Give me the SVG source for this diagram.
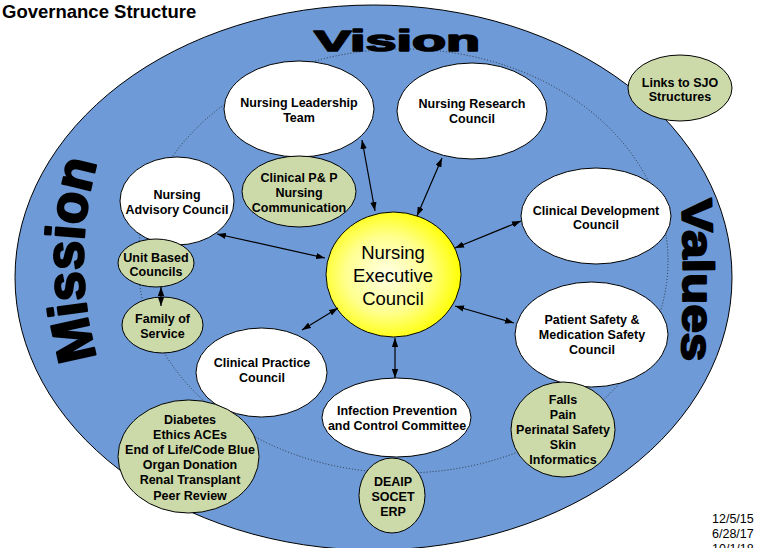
<svg xmlns="http://www.w3.org/2000/svg" width="758" height="548" viewBox="0 0 758 548">
  <defs>
    <style>
      text { font-family: "Liberation Sans", Arial, sans-serif; fill: #000; }
      .t { font-size: 12.5px; font-weight: bold; text-anchor: middle; }
      .white { fill: #fff; stroke: #000; stroke-width: 1; }
      .green { fill: #ccd9a9; stroke: #000; stroke-width: 1; }
      .big { font-weight: bold; stroke: #000; stroke-linejoin: round; }
      .link { stroke: #000; stroke-width: 1.2; fill: none; marker-start: url(#ah); marker-end: url(#ah); }
      .date { font-size: 12.5px; }
    </style>
    <marker id="ah" viewBox="0 0 10 7" refX="10" refY="3.5" markerWidth="9" markerHeight="6.5" markerUnits="userSpaceOnUse" orient="auto-start-reverse">
      <path d="M0,0L10,3.5L0,7z" fill="#000"/>
    </marker>
    <radialGradient id="nec-fill" cx="0.45" cy="0.5" r="0.55">
      <stop offset="0" stop-color="#ffffe6"/>
      <stop offset="0.55" stop-color="#ffff90"/>
      <stop offset="1" stop-color="#ffff00"/>
    </radialGradient>
    <path id="mission-arc" d="M108,390 A354,354 0 0 1 108,130"/>
    <path id="values-arc" d="M679,150 A2000,2000 0 0 1 679,410"/>
  </defs>

  <rect width="758" height="548" fill="#fff"/>

  <!-- title -->
  <text x="2" y="17.5" font-size="18.5" font-weight="bold">Governance Structure</text>

  <!-- outer ring and dotted inner boundary -->
  <g id="frame">
    <ellipse cx="373.5" cy="277.5" rx="358.5" ry="272.5" fill="#6e9bd8" stroke="#000" stroke-width="1"/>
    <ellipse cx="403" cy="261" rx="265" ry="212" fill="none" stroke="#1a1a1a" stroke-width="0.8" stroke-dasharray="1 2"/>
    <text class="big" x="314" y="51" font-size="30" stroke-width="1.6" textLength="166" lengthAdjust="spacingAndGlyphs">Vision</text>
    <text class="big" font-size="54" stroke-width="2.2"><textPath href="#mission-arc" startOffset="50%" text-anchor="middle" textLength="198" lengthAdjust="spacingAndGlyphs">Mission</textPath></text>
    <text class="big" font-size="43" stroke-width="2"><textPath href="#values-arc" startOffset="50%" text-anchor="middle" textLength="162" lengthAdjust="spacingAndGlyphs">Values</textPath></text>
  </g>

  <!-- nodes -->
  <g id="nursing-leadership-team">
    <ellipse class="white" cx="299" cy="109" rx="75" ry="48"/>
    <text class="t"><tspan x="299" y="106.5">Nursing Leadership</tspan><tspan x="299" y="121.5">Team</tspan></text>
  </g>
  <g id="nursing-research-council">
    <ellipse class="white" cx="472" cy="111" rx="75" ry="48"/>
    <text class="t"><tspan x="472" y="107.5">Nursing Research</tspan><tspan x="472" y="123">Council</tspan></text>
  </g>
  <g id="clinical-pp">
    <ellipse class="green" cx="299" cy="191.5" rx="57" ry="35.5"/>
    <text class="t"><tspan x="299" y="181.5">Clinical P&amp; P</tspan><tspan x="299" y="196.5">Nursing</tspan><tspan x="299" y="211.5">Communication</tspan></text>
  </g>
  <g id="nursing-advisory-council">
    <ellipse class="white" cx="177" cy="201" rx="57" ry="44"/>
    <text class="t"><tspan x="177" y="198.5">Nursing</tspan><tspan x="177" y="213.5">Advisory Council</tspan></text>
  </g>
  <g id="unit-based-councils">
    <ellipse class="green" cx="156" cy="263" rx="38" ry="24"/>
    <text class="t"><tspan x="156" y="261.5">Unit Based</tspan><tspan x="156" y="276">Councils</tspan></text>
  </g>
  <g id="family-of-service">
    <ellipse class="green" cx="162.5" cy="325" rx="40.5" ry="28"/>
    <text class="t"><tspan x="162.5" y="322.5">Family of</tspan><tspan x="162.5" y="337.5">Service</tspan></text>
  </g>
  <g id="clinical-development-council">
    <ellipse class="white" cx="596" cy="216" rx="75" ry="48"/>
    <text class="t"><tspan x="596" y="214.5">Clinical Development</tspan><tspan x="596" y="229">Council</tspan></text>
  </g>
  <g id="patient-safety-council">
    <ellipse class="white" cx="591.5" cy="334.5" rx="76.5" ry="52.5"/>
    <text class="t"><tspan x="592" y="323.5">Patient Safety &amp;</tspan><tspan x="592" y="338.5">Medication Safety</tspan><tspan x="592" y="353.5">Council</tspan></text>
  </g>
  <g id="falls-group">
    <ellipse class="green" cx="563" cy="429.5" rx="52" ry="47.5"/>
    <text class="t"><tspan x="563" y="403.5">Falls</tspan><tspan x="563" y="418.5">Pain</tspan><tspan x="563" y="433.5">Perinatal Safety</tspan><tspan x="563" y="448.5">Skin</tspan><tspan x="563" y="463.5">Informatics</tspan></text>
  </g>
  <g id="links-sjo">
    <ellipse class="green" cx="680" cy="88" rx="52" ry="33"/>
    <text class="t"><tspan x="680" y="86.5">Links to SJO</tspan><tspan x="680" y="101">Structures</tspan></text>
  </g>
  <g id="clinical-practice-council">
    <ellipse class="white" cx="261.5" cy="372.5" rx="65.5" ry="44.5"/>
    <text class="t"><tspan x="262" y="366.5">Clinical Practice</tspan><tspan x="262" y="381.5">Council</tspan></text>
  </g>
  <g id="infection-prevention">
    <ellipse class="white" cx="396.5" cy="417.5" rx="74.5" ry="39.5"/>
    <text class="t"><tspan x="397" y="414.5">Infection Prevention</tspan><tspan x="397" y="430">and Control Committee</tspan></text>
  </g>
  <g id="diabetes-group">
    <ellipse class="green" cx="188.5" cy="456.5" rx="70.5" ry="56.5"/>
    <text class="t"><tspan x="190" y="423.5">Diabetes</tspan><tspan x="190" y="438.7">Ethics ACEs</tspan><tspan x="190" y="453.9">End of Life/Code Blue</tspan><tspan x="190" y="469.1">Organ Donation</tspan><tspan x="190" y="484.3">Renal Transplant</tspan><tspan x="190" y="499.5">Peer Review</tspan></text>
  </g>
  <g id="deaip-group">
    <ellipse class="green" cx="392" cy="495.5" rx="33" ry="37.5"/>
    <text class="t"><tspan x="393" y="485.5">DEAIP</tspan><tspan x="393" y="500.5">SOCET</tspan><tspan x="393" y="515.5">ERP</tspan></text>
  </g>
  <g id="nursing-executive-council">
    <ellipse cx="393.5" cy="274.5" rx="67.5" ry="62.5" fill="url(#nec-fill)" stroke="#000" stroke-width="1"/>
    <text font-size="18.5" text-anchor="middle"><tspan x="393" y="258.5">Nursing</tspan><tspan x="393" y="281.5">Executive</tspan><tspan x="393" y="304.5">Council</tspan></text>
  </g>

  <!-- connectors -->
  <g id="connectors">
    <line class="link" x1="362" y1="140" x2="375" y2="211"/>
    <line class="link" x1="442" y1="158" x2="417" y2="216"/>
    <line class="link" x1="217" y1="234" x2="325" y2="258"/>
    <line class="link" x1="521" y1="221" x2="455" y2="248"/>
    <line class="link" x1="455" y1="306" x2="514" y2="323"/>
    <line class="link" x1="302" y1="330" x2="338" y2="308"/>
    <line class="link" x1="395" y1="338" x2="395" y2="378"/>
    <line class="link" x1="161" y1="287" x2="161" y2="306"/>
  </g>

  <!-- revision dates -->
  <g id="dates">
    <text class="date" x="712" y="522.5">12/5/15</text>
    <text class="date" x="712" y="537.5">6/28/17</text>
    <text class="date" x="712" y="552.5">10/1/18</text>
  </g>
</svg>
